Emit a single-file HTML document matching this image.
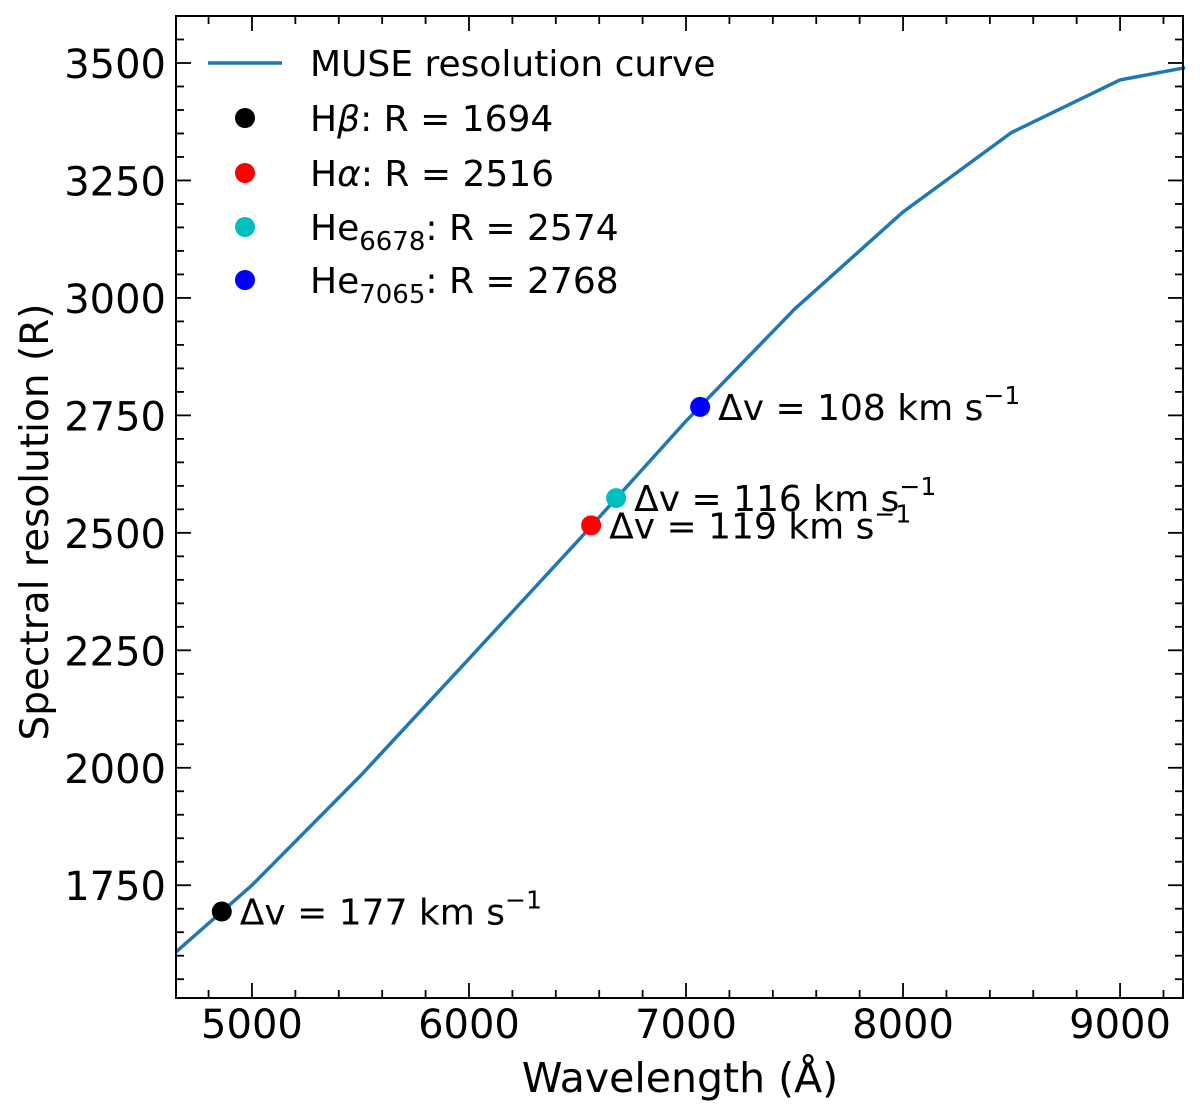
<!DOCTYPE html>
<html><head><meta charset="utf-8"><style>
body{margin:0;background:#fff;}
svg{display:block;font-family:"DejaVu Sans","Liberation Sans",sans-serif;}
</style></head><body>
<svg id="chart" width="1200" height="1117" viewBox="0 0 1200 1117">
<g id="ticks"></g>
<g id="plot"></g>
<rect x="176" y="16" width="1007" height="982" fill="none" stroke="#000" stroke-width="2"/>
<text x="680" y="1092" font-size="41" text-anchor="middle">Wavelength (Å)</text>
<text transform="translate(48,522) rotate(-90)" font-size="39" text-anchor="middle">Spectral resolution (R)</text>
<g font-size="36">
<line x1="208" y1="63" x2="282" y2="63" stroke="#1f77b4" stroke-width="3.5"/>
<text x="310" y="76">MUSE resolution curve</text>
<circle cx="245" cy="118" r="10" fill="#000"/>
<text x="310" y="131">H<tspan font-style="italic">β</tspan>: R = 1694</text>
<circle cx="245" cy="173" r="10" fill="#ff0000"/>
<text x="310" y="186">H<tspan font-style="italic">α</tspan>: R = 2516</text>
<circle cx="245" cy="227" r="10" fill="#00bfbf"/>
<text x="310" y="240">He<tspan font-size="26" dy="10">6678</tspan><tspan dy="-10">: R = 2574</tspan></text>
<circle cx="245" cy="280" r="10" fill="#0000ff"/>
<text x="310" y="293">He<tspan font-size="26" dy="10">7065</tspan><tspan dy="-10">: R = 2768</tspan></text>
</g>
</svg>
<script>
const curveWave=[4650,5000,5500,6000,6500,7000,7500,8000,8500,9000,9300];
const curveR=[1608,1750,1983,2232,2482,2738,2976,3183,3352,3464,3490];
const lineWave=[4861,6563,6678,7065];
const lineR=[1694,2516,2574,2768];
const lineDv=["177","119","116","108"];
const lineColors=["#000000","#ff0000","#00bfbf","#0000ff"];
const xTicks=[5000,6000,7000,8000,9000];
const yTicks=[1750,2000,2250,2500,2750,3000,3250,3500];
const X0=176,X1=1183,Y0=16,Y1=998,XMIN=4650,XMAX=9290,YMIN=1510,YMAX=3600;
const sx=v=>X0+(v-XMIN)/(XMAX-XMIN)*(X1-X0);
const sy=v=>Y1-(v-YMIN)/(YMAX-YMIN)*(Y1-Y0);
const NS="http://www.w3.org/2000/svg";
const ticks=document.getElementById('ticks'),plot=document.getElementById('plot');
function mk(t,a,p){const e=document.createElementNS(NS,t);for(const k in a)e.setAttribute(k,a[k]);p.appendChild(e);return e;}
for(let v=4800;v<=9200;v+=200){const x=sx(v);const maj=v%1000===0;const L=maj?15:8;
mk('line',{x1:x,y1:Y1,x2:x,y2:Y1-L,stroke:'#000','stroke-width':1.8},ticks);
mk('line',{x1:x,y1:Y0,x2:x,y2:Y0+L,stroke:'#000','stroke-width':1.8},ticks);}
for(let v=1550;v<=3600;v+=50){const y=sy(v);const maj=v%250===0;const L=maj?15:8;
mk('line',{x1:X0,y1:y,x2:X0+L,y2:y,stroke:'#000','stroke-width':1.8},ticks);
mk('line',{x1:X1,y1:y,x2:X1-L,y2:y,stroke:'#000','stroke-width':1.8},ticks);}
xTicks.forEach(v=>{const t=mk('text',{x:sx(v),y:1038,'font-size':40,'text-anchor':'middle'},ticks);t.textContent=v;

});
yTicks.forEach(v=>{const t=mk('text',{x:166,y:sy(v)+15,'font-size':40,'text-anchor':'end'},ticks);t.textContent=v;

});
const pl=mk('polyline',{points:curveWave.map((w,i)=>sx(w)+','+sy(curveR[i])).join(' '),fill:'none',stroke:'#1f77b4','stroke-width':3.5},plot);


lineWave.forEach((w,i)=>{const c=mk('circle',{cx:sx(w),cy:sy(lineR[i]),r:10,fill:lineColors[i]},plot);


const t=mk('text',{x:sx(w)+18,y:sy(lineR[i])+13,'font-size':36},plot);
t.innerHTML='Δv = '+lineDv[i]+' km s<tspan font-size="25" dy="-16">−1</tspan>';

});
</script>
</body></html>
